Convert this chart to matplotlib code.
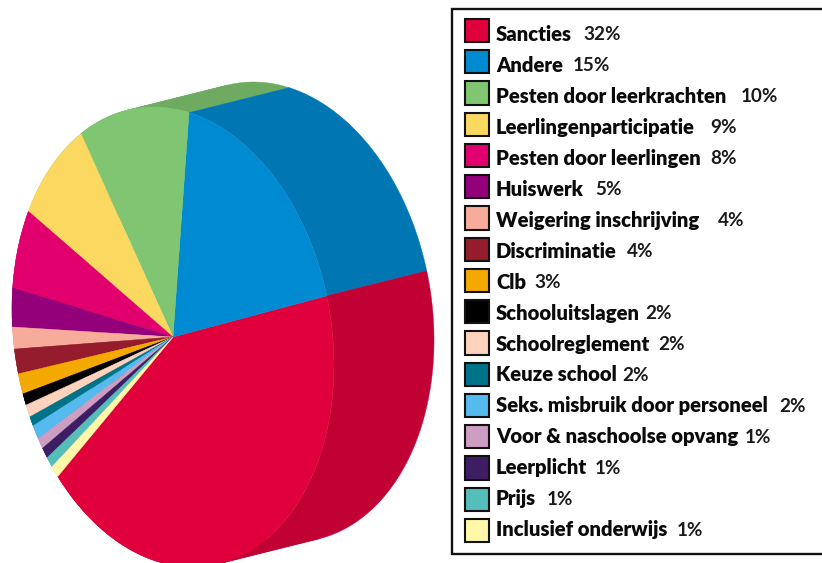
import numpy as np
import matplotlib
matplotlib.use("Agg")
import matplotlib.pyplot as plt
from matplotlib.patches import Rectangle
from matplotlib.transforms import Affine2D

# Legend content as printed
categories = ["Sancties", "Andere", "Pesten door leerkrachten", "Leerlingenparticipatie",
              "Pesten door leerlingen", "Huiswerk", "Weigering inschrijving", "Discriminatie",
              "Clb", "Schooluitslagen", "Schoolreglement", "Keuze school",
              "Seks. misbruik door personeel", "Voor & naschoolse opvang", "Leerplicht",
              "Prijs", "Inclusief onderwijs"]
value_labels = ["32%", "15%", "10%", "9%", "8%", "5%", "4%", "4%", "3%", "2%", "2%", "2%",
                "2%", "1%", "1%", "1%", "1%"]
# Slice sizes as drawn in the picture (degrees read off the rim; the drawing
# does not follow the printed percentages)
slice_sizes = [153.0, 67.0, 40.6, 29.0, 20.8, 9.8, 5.5, 6.2, 5.1, 2.9, 3.1, 2.4, 3.5,
               2.7, 2.7, 2.7, 3.0]
face_colors = ["#E0003C", "#008AD2", "#80C672", "#FBD960", "#E2006E", "#93007A", "#F7AB9B",
               "#941C2C", "#F3A900", "#000000", "#FDD3BE", "#007388", "#55BBEE", "#CE9DC2",
               "#3D1E63", "#55BDBA", "#FFF8A8"]
side_colors = ["#C10033", "#0077B3", "#6EAB61", "#D8BB53", "#C3005F", "#7F0069", "#D59385",
               "#801826", "#D19200", "#000000", "#DAB6A4", "#006375", "#49A1CD", "#B287A7",
               "#351A55", "#49A3A0", "#DCD691"]
value_x = [583, 573, 741, 710, 710, 595, 718, 627, 534, 645, 658, 622, 779, 745, 595, 547, 677]

START_ANGLE = 224.3
FONT = "Lato"
LABEL_SIZE = 14.6
VALUE_SIZE = 13.6

fig = plt.figure(figsize=(8.22, 5.63), dpi=100)
ax = fig.add_axes([0, 0, 1, 1])

# Unit circle -> tilted ellipse on the page, y pointing down in pixel data coordinates
face = Affine2D(np.array([[161.0, 0.0, 173.0], [28.0, -228.3, 337.0], [0, 0, 1]]))
DEPTH = np.array([100.0, -25.0])

# Side wall: sweep each rim arc along the depth direction (left slices first).
# Arcs are split where the rim runs parallel to the depth, so each strip is simple.
edges = START_ANGLE + np.concatenate([[0], np.cumsum(slice_sizes)])
for i in range(len(slice_sizes) - 1, -1, -1):
    t = np.radians(np.linspace(edges[i], edges[i + 1], 400))
    rim = face.transform(np.column_stack([np.cos(t), np.sin(t)]))
    d = np.diff(rim, axis=0)
    turn = np.sign(d[:, 0] * DEPTH[1] - d[:, 1] * DEPTH[0])
    cuts = np.where(np.diff(turn) != 0)[0] + 1
    bounds = [0, *cuts, len(rim) - 1]
    for a, b in zip(bounds[:-1], bounds[1:]):
        part = rim[a:b + 1]
        ax.fill(np.r_[part[:, 0], part[::-1, 0] + DEPTH[0]],
                np.r_[part[:, 1], part[::-1, 1] + DEPTH[1]],
                color=side_colors[i], lw=0.3, zorder=1)

# Top face
wedges, _ = ax.pie(slice_sizes, colors=face_colors, startangle=START_ANGLE, counterclock=True,
                   wedgeprops=dict(lw=0.3))
for w, c in zip(wedges, face_colors):
    w.set_transform(face + ax.transData)
    w.set_edgecolor(c)
    w.set_zorder(2)

ax.set_aspect("auto")
ax.set_xlim(0, 822)
ax.set_ylim(563, 0)
ax.axis("off")

# Legend box (runs off the right edge)
ax.add_patch(Rectangle((451.5, 8.5), 400, 545.5, fc="white", ec="#111111", lw=1.7, zorder=3))
for i, (name, val, col) in enumerate(zip(categories, value_labels, face_colors)):
    sy = 30.5 + 31.25 * i
    ty = 33.0 + 30.95 * i
    ax.add_patch(Rectangle((465, sy - 11.7), 23.5, 23.4, fc=col, ec="#111111", lw=1.5, zorder=4))
    ax.text(496, ty, name, family=FONT, weight="heavy", fontsize=LABEL_SIZE, color="#0a0a0a",
            va="center_baseline", ha="left", zorder=5)
    ax.text(value_x[i], ty + 0.5, val, family=FONT, weight="bold", fontsize=VALUE_SIZE,
            color="#1a1a1a", va="center_baseline", ha="left", zorder=5)

fig.savefig("out.png", dpi=100, facecolor="white")
